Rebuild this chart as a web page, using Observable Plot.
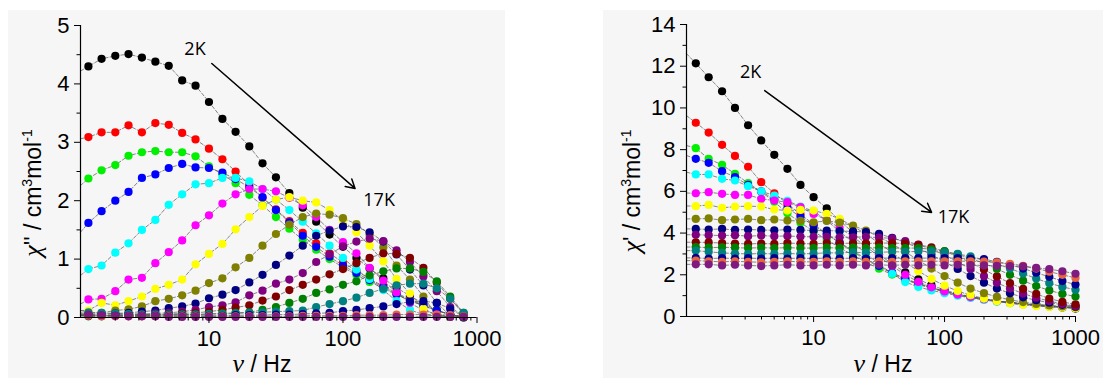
<!DOCTYPE html>
<html><head><meta charset="utf-8">
<script src="https://cdn.jsdelivr.net/npm/d3@7"></script>
<script src="https://cdn.jsdelivr.net/npm/@observablehq/plot@0.6"></script>
<style>
body{margin:0;background:#fff;}
#wrap{position:relative;width:1106px;height:380px;overflow:hidden;}
.bg{position:absolute;background:#f6f6f6;}
.panel{position:absolute;top:0;}
</style></head>
<body><div id="wrap"><div class="bg" style="left:8px;top:10px;width:497px;height:368px"></div><div class="bg" style="left:603px;top:10px;width:500px;height:368px"></div></div>
<script>
// frequencies (Hz)
const freq = [1.26,1.58,2.0,2.51,3.16,3.98,5.01,6.31,7.94,10,12.6,15.8,20,25.1,31.6,39.8,50.1,63.1,79.4,100,126,158,200,251,316,398,501,631,794,1000];
const temps = ["2K","3K","4K","5K","6K","7K","8K","9K","10K","11K","12K","13K","14K","15K","16K","17K"];
const colors = ["#000000","#ff0000","#00f000","#0000ff","#00ffff","#ff00ff","#ffff00","#808000","#000080","#800080","#800000","#008000","#008080","#000090","#e8643c","#7f1a80"];
const xMajor = [10,100,1000];
const xMinor = [2,3,4,5,6,7,8,9,20,30,40,50,60,70,80,90,200,300,400,500,600,700,800,900];

// chi'' (left panel)
const chiPP_2K = [4.30,4.43,4.48,4.51,4.45,4.38,4.31,4.06,3.97,3.69,3.40,3.18,2.93,2.64,2.40,2.13,1.88,1.64,1.42,1.21,1.02,0.84,0.67,0.51,0.37,0.24,0.13,0.05,0.01];
const chiPP_3K = [3.09,3.17,3.17,3.29,3.17,3.33,3.30,3.16,3.05,2.89,2.71,2.50,2.27,2.05,1.85,1.65,1.45,1.27,1.10,0.94,0.80,0.66,0.54,0.42,0.31,0.21,0.12,0.05,0.01];
const chiPP_4K = [2.38,2.52,2.61,2.77,2.83,2.85,2.83,2.83,2.76,2.59,2.45,2.30,2.10,1.92,1.72,1.52,1.33,1.16,1.00,0.86,0.73,0.61,0.50,0.39,0.29,0.20,0.12,0.05,0.01];
const chiPP_5K = [1.62,1.82,2.00,2.15,2.39,2.45,2.56,2.63,2.57,2.56,2.48,2.37,2.23,2.06,1.84,1.63,1.40,1.21,1.04,0.89,0.76,0.64,0.52,0.40,0.29,0.20,0.12,0.05,0.01];
const chiPP_6K = [0.83,0.89,1.11,1.27,1.50,1.67,1.93,2.11,2.28,2.30,2.39,2.39,2.33,2.20,2.02,1.84,1.64,1.44,1.23,1.02,0.82,0.66,0.47,0.28,0.13,0.05,0.02,0.01,0.00];
const chiPP_7K = [0.31,0.32,0.45,0.65,0.68,0.93,1.12,1.32,1.58,1.75,1.95,2.11,2.20,2.20,2.16,2.05,1.92,1.72,1.50,1.29,1.10,0.85,0.63,0.43,0.25,0.12,0.05,0.02,0.01];
const chiPP_8K = [0.12,0.25,0.21,0.28,0.36,0.49,0.56,0.65,0.91,1.09,1.26,1.51,1.72,1.91,2.02,2.06,2.00,1.97,1.84,1.66,1.46,1.23,0.96,0.66,0.41,0.15,0.04,0.01,0.00];
const chiPP_9K = [0.07,0.08,0.12,0.14,0.19,0.28,0.32,0.38,0.46,0.59,0.67,0.86,1.02,1.23,1.43,1.59,1.72,1.78,1.76,1.70,1.60,1.42,1.20,0.89,0.65,0.36,0.03,0.01,0.00];
const chiPP_10K = [0.05,0.06,0.07,0.08,0.10,0.12,0.16,0.19,0.24,0.33,0.39,0.47,0.60,0.73,0.90,1.06,1.23,1.40,1.49,1.56,1.55,1.46,1.30,1.08,0.82,0.55,0.25,0.03,0.00];
const chiPP_11K = [0.04,0.04,0.05,0.06,0.06,0.07,0.08,0.10,0.13,0.18,0.21,0.26,0.38,0.46,0.58,0.65,0.76,0.95,1.08,1.22,1.30,1.35,1.31,1.15,0.95,0.70,0.45,0.18,0.02];
const chiPP_12K = [0.03,0.03,0.04,0.04,0.05,0.05,0.06,0.07,0.08,0.10,0.13,0.17,0.21,0.29,0.36,0.47,0.56,0.65,0.74,0.83,0.93,1.02,1.10,1.09,1.02,0.85,0.60,0.32,0.06];
const chiPP_13K = [0.02,0.02,0.03,0.03,0.03,0.04,0.04,0.05,0.05,0.06,0.07,0.08,0.09,0.13,0.18,0.25,0.32,0.42,0.48,0.56,0.62,0.72,0.79,0.84,0.84,0.78,0.62,0.36,0.08];
const chiPP_14K = [0.09,0.08,0.07,0.06,0.05,0.05,0.05,0.05,0.05,0.06,0.06,0.07,0.08,0.09,0.10,0.11,0.12,0.18,0.23,0.28,0.34,0.42,0.49,0.55,0.58,0.58,0.50,0.32,0.08];
const chiPP_15K = [0.03,0.03,0.03,0.03,0.03,0.03,0.03,0.03,0.03,0.03,0.03,0.04,0.04,0.04,0.05,0.05,0.06,0.07,0.08,0.11,0.13,0.16,0.19,0.23,0.27,0.28,0.25,0.15,0.01];
const chiPP_16K = [0.03,0.02,0.02,0.02,0.02,0.02,0.02,0.02,0.02,0.02,0.02,0.02,0.02,0.02,0.02,0.02,0.03,0.03,0.03,0.03,0.04,0.04,0.04,0.05,0.05,0.05,0.05,0.04,0.02];
const chiPP_17K = [0.05,0.04,0.03,0.02,0.02,0.02,0.01,0.01,0.01,0.01,0.01,0.01,0.01,0.01,0.01,0.01,0.01,0.01,0.01,0.01,0.01,0.01,0.01,0.01,0.01,0.01,0.01,0.01,0.01];
// fitted-curve value at the left edge of the axis (1.1 Hz)
const fitStartPP = [4.22,3.06,2.26,1.46,0.72,0.23,0.12,0.08,0.06,0.05,0.04,0.03,0.12,0.03,0.03,0.06];

// chi' (right panel)
const chiP_2K = [12.14,11.47,10.80,10.00,9.17,8.44,7.75,7.08,6.31,5.72,5.19,4.60,4.02,3.48,2.98,2.52,2.12,1.78,1.50,1.27,1.09,0.95,0.84,0.75,0.67,0.60,0.54,0.48,0.43,0.38];
const chiP_3K = [9.29,8.82,8.23,7.70,7.18,6.44,5.91,5.40,4.90,4.42,3.96,3.52,3.10,2.72,2.38,2.07,1.80,1.56,1.36,1.19,1.04,0.92,0.82,0.73,0.66,0.60,0.54,0.49,0.45,0.42];
const chiP_4K = [8.07,7.56,7.27,6.84,6.40,5.98,5.50,4.95,4.50,4.08,3.68,3.30,2.94,2.60,2.29,2.01,1.76,1.54,1.35,1.19,1.05,0.93,0.83,0.74,0.67,0.61,0.55,0.50,0.46,0.43];
const chiP_5K = [7.56,7.37,6.97,6.68,6.31,6.00,5.62,5.20,4.78,4.36,3.95,3.55,3.15,2.77,2.42,2.10,1.82,1.58,1.38,1.21,1.06,0.94,0.84,0.75,0.68,0.62,0.56,0.51,0.47,0.44];
const chiP_6K = [6.81,6.81,6.60,6.52,6.25,6.00,5.80,5.55,5.27,5.05,4.60,4.08,3.55,3.02,2.52,2.05,1.65,1.42,1.25,1.12,1.00,0.89,0.79,0.71,0.64,0.58,0.53,0.49,0.45,0.42];
const chiP_7K = [5.91,5.96,5.88,5.83,5.83,5.64,5.56,5.48,5.24,4.92,4.62,4.25,3.82,3.35,2.88,2.42,2.00,1.66,1.40,1.20,1.05,0.93,0.83,0.74,0.67,0.61,0.55,0.50,0.46,0.43];
const chiP_8K = [5.29,5.35,5.21,5.27,5.29,5.27,5.13,5.08,5.11,5.08,4.92,4.68,4.33,3.95,3.52,3.06,2.60,2.18,1.80,1.48,1.22,1.02,0.86,0.73,0.63,0.56,0.50,0.46,0.43,0.40];
const chiP_9K = [4.68,4.70,4.62,4.65,4.68,4.62,4.65,4.60,4.58,4.52,4.58,4.50,4.36,4.12,3.82,3.48,3.10,2.70,2.30,1.94,1.62,1.34,1.12,0.94,0.80,0.69,0.60,0.53,0.48,0.44];
const chiP_10K = [4.20,4.17,4.20,4.15,4.17,4.15,4.13,4.17,4.15,4.12,4.12,4.10,4.08,4.05,3.96,3.77,3.55,3.28,2.96,2.62,2.28,1.94,1.62,1.34,1.11,0.92,0.78,0.66,0.56,0.47];
const chiP_11K = [3.92,3.90,3.88,3.90,3.85,3.88,3.85,3.86,3.83,3.82,3.82,3.80,3.80,3.82,3.78,3.75,3.61,3.45,3.22,2.95,2.62,2.28,1.94,1.62,1.34,1.10,0.90,0.74,0.60,0.50];
const chiP_12K = [3.56,3.55,3.52,3.50,3.48,3.50,3.48,3.52,3.50,3.48,3.52,3.50,3.52,3.50,3.52,3.52,3.50,3.44,3.32,3.12,2.88,2.58,2.25,1.92,1.60,1.32,1.08,0.86,0.70,0.58];
const chiP_13K = [3.33,3.30,3.32,3.30,3.28,3.30,3.28,3.30,3.28,3.28,3.30,3.28,3.30,3.28,3.30,3.28,3.28,3.28,3.22,3.13,2.98,2.78,2.55,2.28,2.00,1.72,1.46,1.25,1.08,0.96];
const chiP_14K = [3.16,3.10,3.05,3.02,3.00,3.02,3.00,3.02,3.00,3.02,3.05,3.05,3.08,3.06,3.08,3.10,3.10,3.12,3.12,3.08,3.00,2.88,2.72,2.52,2.30,2.06,1.82,1.60,1.42,1.28];
const chiP_15K = [2.81,2.78,2.80,2.78,2.80,2.78,2.80,2.78,2.80,2.78,2.80,2.78,2.80,2.78,2.80,2.80,2.80,2.80,2.80,2.80,2.80,2.78,2.75,2.62,2.48,2.30,2.10,1.90,1.70,1.53];
const chiP_16K = [2.68,2.65,2.62,2.65,2.62,2.60,2.62,2.65,2.62,2.62,2.65,2.62,2.65,2.62,2.65,2.62,2.65,2.65,2.65,2.65,2.65,2.65,2.63,2.60,2.53,2.43,2.30,2.15,2.00,1.85];
const chiP_17K = [2.50,2.50,2.45,2.48,2.45,2.42,2.45,2.48,2.45,2.45,2.48,2.45,2.48,2.45,2.48,2.45,2.48,2.45,2.48,2.45,2.48,2.46,2.45,2.43,2.42,2.40,2.33,2.27,2.17,2.05];
// fitted-curve value at the left edge of the axis (1.07 Hz)
const fitStartP = [12.6,9.63,8.2,7.72,6.92,5.92,5.30,4.68,4.20,3.92,3.56,3.33,3.16,2.81,2.68,2.50];

// annotations
const annLeft = [{t:"2K", f:7.87, v:4.59},{t:"17K", f:186, v:2.0}];
const arrowLeft = [{f1:10.5, v1:4.35, f2:123, v2:2.21}];
const annRight = [{t:"2K", f:3.30, v:11.72},{t:"17K", f:117, v:4.77}];
const arrowRight = [{f1:4.23, v1:10.83, f2:79.6, v2:4.99}];

const chiPP = [chiPP_2K,chiPP_3K,chiPP_4K,chiPP_5K,chiPP_6K,chiPP_7K,chiPP_8K,chiPP_9K,chiPP_10K,chiPP_11K,chiPP_12K,chiPP_13K,chiPP_14K,chiPP_15K,chiPP_16K,chiPP_17K];
const chiP = [chiP_2K,chiP_3K,chiP_4K,chiP_5K,chiP_6K,chiP_7K,chiP_8K,chiP_9K,chiP_10K,chiP_11K,chiP_12K,chiP_13K,chiP_14K,chiP_15K,chiP_16K,chiP_17K];
const toRows = arrs => arrs.flatMap((a,i)=>a.map((v,k)=>({f:freq[k], v, T:temps[i]})));
const toLineRows = (arrs, starts, f0) => arrs.flatMap((a,i)=>[{f:f0, v:starts[i], T:temps[i]}, ...a.map((v,k)=>({f:freq[k], v, T:temps[i]}))]);

const FONT = "'Liberation Sans', Arial, sans-serif";

function makePanel({rows, lineRows, xDomain, yDomain, yMajor, yMinor, marginLeft, marginRight, marginTop, marginBottom, ann, arrow}) {
  return Plot.plot({
    width: 553, height: 380, marginLeft, marginRight, marginTop, marginBottom,
    style: {background: "transparent", fontFamily: FONT, fontSize: "22px", color: "#000", overflow: "visible"},
    x: {type: "log", domain: xDomain},
    y: {domain: yDomain},
    color: {domain: temps, range: colors},
    marks: [
      Plot.line(lineRows, {x: "f", y: "v", z: "T", stroke: "#555", strokeWidth: 0.7, strokeDasharray: "3.5,2"}),
      Plot.dot(rows, {x: "f", y: "v", fill: "T", r: 4.1}),
      Plot.ruleX([xDomain[0]], {stroke: "#000", strokeWidth: 1.2}),
      Plot.ruleY([yDomain[0]], {stroke: "#000", strokeWidth: 1.2}),
      Plot.axisY({ticks: yMinor, tickSize: 3.5, tickFormat: () => "", label: null, strokeWidth: 1}),
      Plot.axisY({ticks: yMajor, tickSize: 6, tickPadding: 5, label: null, tickFormat: d => String(d), fontSize: 22, fontFamily: FONT, strokeWidth: 1}),
      Plot.axisX({ticks: xMinor, tickSize: 3.5, tickFormat: () => "", label: null, strokeWidth: 1}),
      Plot.axisX({ticks: xMajor, tickSize: 6, tickPadding: 7, label: null, tickFormat: d => String(d), fontSize: 22, fontFamily: FONT, strokeWidth: 1}),
      Plot.arrow(arrow, {x1: "f1", y1: "v1", x2: "f2", y2: "v2", stroke: "#000", strokeWidth: 1.5, headLength: 10}),
      Plot.text(ann, {x: "f", y: "v", text: "t", fontSize: 18, fontFamily: "'Open Sans', sans-serif", fill: "#000"})
    ]
  });
}

function addTitles(svgNode, yTitleX, yTitleY, primes, xTitleX, xTitleY) {
  const svg = d3.select(svgNode);
  const t = svg.append("text")
    .attr("transform", `translate(${yTitleX},${yTitleY}) rotate(-90)`)
    .attr("text-anchor", "middle")
    .style("font-family", FONT).style("font-size", "23px").attr("fill", "#000");
  t.append("tspan").text("χ").style("font-family", "'Liberation Serif', serif").style("font-style", "italic").style("font-size", "26px");
  t.append("tspan").text(primes + " / cm");
  t.append("tspan").text("3").attr("dy", "-9").style("font-size", "14px");
  t.append("tspan").text("mol").attr("dy", "9");
  t.append("tspan").text("-1").attr("dy", "-9").style("font-size", "14px");
  const x = svg.append("text")
    .attr("x", xTitleX).attr("y", xTitleY).attr("text-anchor", "middle")
    .style("font-family", FONT).style("font-size", "23px").attr("fill", "#000");
  x.append("tspan").text("ν").style("font-family", "'Liberation Serif', serif").style("font-style", "italic").style("font-size", "26px");
  x.append("tspan").text(" / Hz");
}

const wrap = document.getElementById("wrap");

const left = makePanel({
  rows: toRows(chiPP), lineRows: toLineRows(chiPP, fitStartPP, 1.1),
  xDomain: [1.1, 1000], yDomain: [0, 5],
  yMajor: [0,1,2,3,4,5], yMinor: [0.5,1.5,2.5,3.5,4.5],
  marginLeft: 80, marginRight: 76.5, marginTop: 25, marginBottom: 63,
  ann: annLeft, arrow: arrowLeft
});
left.classList.add("panel"); left.style.left = "0px";
addTitles(left, 41, 193, "''", 262, 372);
wrap.appendChild(left);

const right = makePanel({
  rows: toRows(chiP), lineRows: toLineRows(chiP, fitStartP, 1.07),
  xDomain: [1.07, 1000], yDomain: [0, 14],
  yMajor: [0,2,4,6,8,10,12,14], yMinor: [1,3,5,7,9,11,13],
  marginLeft: 133, marginRight: 31, marginTop: 24, marginBottom: 64,
  ann: annRight, arrow: arrowRight
});
right.classList.add("panel"); right.style.left = "553px";
addTitles(right, 87, 191, "'", 330, 372);
wrap.appendChild(right);
</script>
</body></html>
